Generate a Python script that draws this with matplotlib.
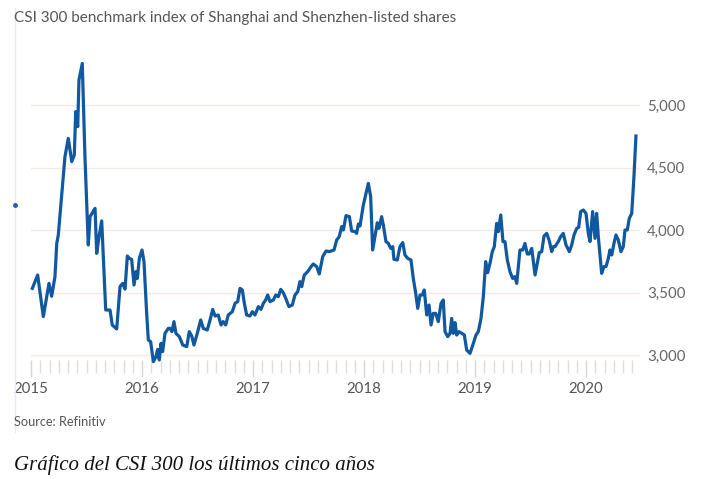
import numpy as np
import matplotlib
matplotlib.use('Agg')
import matplotlib.pyplot as plt
from matplotlib.lines import Line2D
from matplotlib.ticker import FixedLocator, FuncFormatter

# years elapsed since 1 Jan 2015
years_elapsed = [
    0.012, 0.060, 0.111, 0.162, 0.186, 0.216, 0.232, 0.246, 0.306, 0.336,
    0.367, 0.390, 0.403, 0.421, 0.432, 0.462, 0.486, 0.516, 0.532, 0.577,
    0.592, 0.613, 0.637, 0.673, 0.712, 0.732, 0.772, 0.802, 0.826, 0.847,
    0.868, 0.886, 0.907, 0.928, 0.946, 0.958, 0.976, 1.000, 1.018, 1.042,
    1.057, 1.078, 1.102, 1.126, 1.141, 1.156, 1.171, 1.186, 1.207, 1.237,
    1.252, 1.270, 1.288, 1.306, 1.336, 1.367, 1.403, 1.426, 1.448, 1.468,
    1.498, 1.529, 1.552, 1.588, 1.613, 1.637, 1.658, 1.687, 1.712, 1.732,
    1.754, 1.777, 1.814, 1.838, 1.862, 1.883, 1.904, 1.922, 1.943, 1.973,
    1.994, 2.018, 2.048, 2.072, 2.093, 2.114, 2.132, 2.153, 2.183, 2.205,
    2.228, 2.250, 2.273, 2.295, 2.324, 2.354, 2.378, 2.403, 2.423, 2.439,
    2.462, 2.493, 2.523, 2.543, 2.574, 2.597, 2.628, 2.658, 2.687, 2.730,
    2.754, 2.777, 2.799, 2.814, 2.838, 2.868, 2.889, 2.919, 2.934, 2.949,
    2.964, 2.994, 3.018, 3.039, 3.060, 3.078, 3.099, 3.120, 3.135, 3.159,
    3.174, 3.198, 3.219, 3.241, 3.259, 3.270, 3.300, 3.324, 3.349, 3.369,
    3.394, 3.423, 3.444, 3.466, 3.484, 3.505, 3.525, 3.543, 3.565, 3.586,
    3.604, 3.624, 3.646, 3.669, 3.694, 3.714, 3.730, 3.754, 3.775, 3.790,
    3.805, 3.820, 3.835, 3.856, 3.880, 3.904, 3.925, 3.955, 3.985, 4.009,
    4.030, 4.054, 4.075, 4.096, 4.114, 4.135, 4.156, 4.174, 4.195, 4.210,
    4.232, 4.252, 4.270, 4.291, 4.315, 4.339, 4.358, 4.376, 4.405, 4.430,
    4.450, 4.471, 4.489, 4.511, 4.541, 4.561, 4.579, 4.601, 4.622, 4.646,
    4.669, 4.691, 4.705, 4.721, 4.750, 4.772, 4.795, 4.820, 4.850, 4.871,
    4.892, 4.916, 4.934, 4.952, 4.976, 5.000, 5.021, 5.036, 5.060, 5.081,
    5.096, 5.111, 5.141, 5.162, 5.180, 5.201, 5.216, 5.232, 5.252, 5.270,
    5.291, 5.315, 5.336, 5.351, 5.372, 5.390, 5.412, 5.432, 5.450,
]
csi300 = [
    3533, 3640, 3307, 3573, 3470, 3627, 3893, 3960, 4587, 4733,
    4547, 4600, 4947, 4827, 5200, 5333, 4587, 3880, 4107, 4173,
    3813, 3947, 4073, 3360, 3360, 3240, 3208, 3547, 3573, 3527,
    3792, 3773, 3765, 3560, 3667, 3613, 3773, 3840, 3747, 3333,
    3120, 3107, 2947, 2987, 3045, 2960, 3093, 3027, 3173, 3213,
    3213, 3187, 3267, 3173, 3147, 3080, 3067, 3187, 3152, 3080,
    3173, 3280, 3213, 3200, 3280, 3365, 3312, 3320, 3240, 3267,
    3240, 3320, 3347, 3413, 3427, 3533, 3520, 3413, 3320, 3312,
    3347, 3320, 3387, 3365, 3413, 3440, 3480, 3427, 3440, 3480,
    3467, 3525, 3498, 3453, 3387, 3400, 3480, 3507, 3587, 3547,
    3640, 3667, 3707, 3728, 3707, 3648, 3787, 3832, 3827, 3840,
    3920, 3947, 4027, 4000, 4115, 4107, 3992, 3987, 3973, 4048,
    4032, 4200, 4293, 4373, 4267, 3840, 3947, 4058, 4013, 4107,
    4040, 3907, 3893, 3853, 3867, 3765, 3760, 3867, 3899, 3800,
    3773, 3760, 3613, 3493, 3373, 3480, 3480, 3520, 3320, 3400,
    3240, 3333, 3333, 3267, 3413, 3440, 3187, 3147, 3173, 3293,
    3173, 3259, 3160, 3187, 3173, 3160, 3040, 3013, 3093, 3160,
    3187, 3293, 3467, 3747, 3659, 3733, 3827, 3867, 4053, 3987,
    4120, 3907, 3907, 3760, 3667, 3613, 3627, 3573, 3840, 3840,
    3893, 3808, 3808, 3853, 3640, 3733, 3819, 3827, 3952, 3973,
    3915, 3827, 3867, 3867, 3907, 3947, 3973, 3880, 3827, 3880,
    3960, 4013, 4021, 4147, 4160, 4133, 3973, 3907, 4147, 3933,
    4133, 3947, 3653, 3707, 3707, 3773, 3840, 3800, 3893, 3960,
    3920, 3827, 3867, 4000, 4000, 4093, 4133, 4427, 4752,
]
year_labels = [2015, 2016, 2017, 2018, 2019, 2020]
y_ticks = [3000, 3500, 4000, 4500, 5000]

title = 'CSI 300 benchmark index of Shanghai and Shenzhen-listed shares'
source = 'Source: Refinitiv'
caption = 'Gráfico del CSI 300 los últimos cinco años'

plt.rcParams['font.family'] = ['Lato', 'DejaVu Sans']

fig = plt.figure(figsize=(7.06, 4.79), dpi=100)
ax = fig.add_axes([31 / 706, 1 - 360 / 479, 609 / 706, 305 / 479])

x = 2015 + np.array(years_elapsed)
ax.plot(x, csi300, color='#10589f', lw=2.3, solid_joinstyle='round', clip_on=False, zorder=3)

ax.set_xlim(2015, 2015 + 609 / 111)
ax.set_ylim(2960, 5400)

for s in ax.spines.values():
    s.set_visible(False)

ax.yaxis.tick_right()
ax.set_yticks(y_ticks)
ax.yaxis.set_major_formatter(FuncFormatter(lambda v, p: f'{int(v):,}'))
ax.tick_params(axis='y', length=0, pad=5, labelsize=10.8, labelcolor='#666666')
ax.grid(axis='y', color='#f7e8e6', lw=1)

months = [2015 + m / 12 for m in range(1, 66) if m % 12 != 0]
ax.set_xticks(year_labels)
ax.set_xticklabels([str(y) for y in year_labels])
ax.xaxis.set_minor_locator(FixedLocator(months))
ax.tick_params(axis='x', which='major', length=12, color='#d6d6d6', width=1,
               labelsize=10.8, labelcolor='#555555', pad=4)
ax.tick_params(axis='x', which='minor', length=9, color='#dedede', width=1)

fig.text(14 / 706, 1 - 18 / 479, title, fontsize=11, color='#555555', va='center', ha='left')
fig.text(14 / 706, 1 - 422 / 479, source, fontsize=9.2, color='#555555', va='center', ha='left')
fig.text(14 / 706, 1 - 465 / 479, caption, fontsize=15, style='italic', color='#111111',
         family='Liberation Serif', va='center', ha='left')

fig.add_artist(Line2D([14.5 / 706, 14.5 / 706], [1 - 432 / 479, 1 - 8 / 479], color='#e4ebfa', lw=1))
fig.add_artist(Line2D([14.5 / 706], [1 - 205 / 479], marker='o', ms=2.5, color='#2a5caa', lw=0))

fig.savefig('out.png', dpi=100)
